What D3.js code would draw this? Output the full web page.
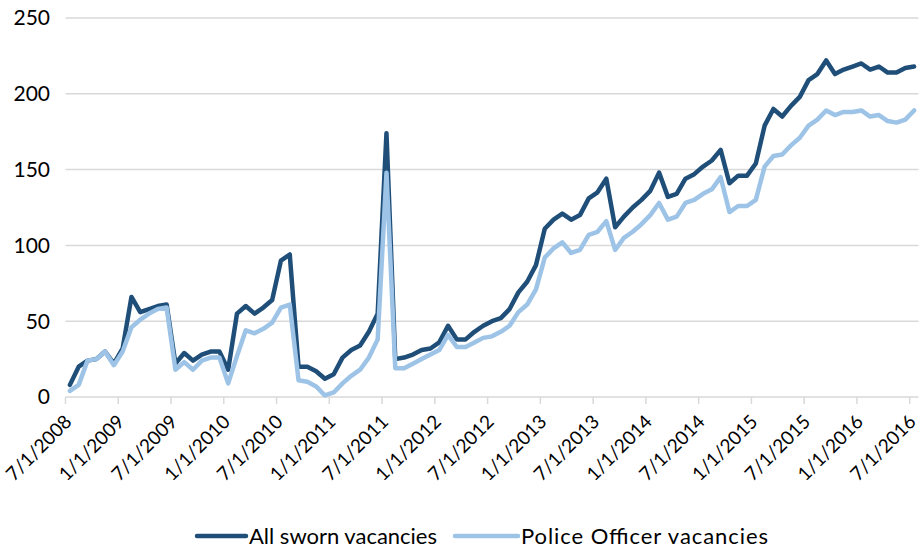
<!DOCTYPE html>
<html>
<head>
<meta charset="utf-8">
<script src="https://cdn.jsdelivr.net/npm/d3@7"></script>
<style>
  body { margin: 0; background: #fff; }
  text { font-family: Lato, "Open Sans", sans-serif; fill: #000; }
</style>
</head>
<body>
<svg width="920" height="551"></svg>
<script>
// monthly points, 7/1/2008 .. 7/1/2016
var months = d3.timeMonth.range(new Date(2008, 6, 1), new Date(2016, 7, 1));

var allSworn = [
  8, 20, 24, 25, 30, 22, 32, 66, 56, 58, 60, 61,
  22, 29, 24, 28, 30, 30, 18, 55, 60, 55, 59, 64,
  90, 94, 20, 20, 17, 12, 15, 26, 31, 34, 43, 55,
  174, 25, 26, 28, 31, 32, 36, 47, 38, 38, 43, 47,
  50, 52, 58, 69, 76, 87, 111, 117, 121, 117, 120, 131,
  135, 144, 112, 119, 125, 130, 136, 148, 132, 134, 144, 147,
  152, 156, 163, 141, 146, 146, 154, 179, 190, 185, 192, 198,
  209, 213, 222, 213, 216, 218, 220, 216, 218, 214, 214, 217,
  218
];

var policeOfficer = [
  4, 8, 24, 25, 30, 21, 30, 46, 51, 55, 58, 59,
  18, 23, 18, 24, 26, 26, 9, 27, 44, 42, 45, 49,
  59, 61, 11, 10, 7, 1, 3, 9, 14, 18, 26, 38,
  148, 19, 19, 22, 25, 28, 31, 41, 33, 33, 36, 39,
  40, 43, 47, 56, 61, 71, 92, 98, 102, 95, 97, 107,
  109, 116, 97, 105, 109, 114, 120, 128, 117, 119, 128, 130,
  134, 137, 145, 122, 126, 126, 130, 152, 159, 160, 166, 171,
  179, 183, 189, 186, 188, 188, 189, 185, 186, 182, 181, 183,
  189
];

var tickLabels = [
  "7/1/2008", "1/1/2009", "7/1/2009", "1/1/2010", "7/1/2010", "1/1/2011",
  "7/1/2011", "1/1/2012", "7/1/2012", "1/1/2013", "7/1/2013", "1/1/2014",
  "7/1/2014", "1/1/2015", "7/1/2015", "1/1/2016", "7/1/2016"
];
var yTicks = [0, 50, 100, 150, 200, 250];

var seriesNames = ["All sworn vacancies", "Police Officer vacancies"];
var seriesColors = ["#1f4e79", "#9dc3e6"];

var svg = d3.select("svg"),
    plotL = 65.5, plotR = 918.5, plotT = 18, plotB = 397;

var x = d3.scaleBand()
    .domain(d3.range(months.length))
    .range([plotL, plotR])
    .padding(0);

var y = d3.scaleLinear()
    .domain([0, 250])
    .range([plotB, plotT]);

var cx = function(i) { return x(i) + x.bandwidth() / 2; };

// gridlines
svg.append("g")
  .selectAll("line")
  .data(yTicks.slice(1))
  .enter().append("line")
    .attr("x1", plotL).attr("x2", plotR)
    .attr("y1", function(d) { return y(d); })
    .attr("y2", function(d) { return y(d); })
    .attr("stroke", "#d9d9d9")
    .attr("stroke-width", 1.5);

// y labels
svg.append("g")
  .selectAll("text")
  .data(yTicks)
  .enter().append("text")
    .attr("x", 50)
    .attr("y", function(d) { return y(d); })
    .attr("dy", "0.35em")
    .attr("text-anchor", "end")
    .style("font-size", "21px")
    .text(function(d) { return d; });

// x axis line + ticks
svg.append("line")
    .attr("x1", plotL).attr("x2", plotR)
    .attr("y1", plotB).attr("y2", plotB)
    .attr("stroke", "#d9d9d9")
    .attr("stroke-width", 1.5);

var tickIdx = tickLabels.map(function(d, k) { return k * 6; });

svg.append("g")
  .selectAll("line")
  .data(tickIdx)
  .enter().append("line")
    .attr("x1", function(i) { return x(i); })
    .attr("x2", function(i) { return x(i); })
    .attr("y1", plotB)
    .attr("y2", plotB + 7)
    .attr("stroke", "#d9d9d9")
    .attr("stroke-width", 1.5);

svg.append("g")
  .selectAll("text")
  .data(tickIdx)
  .enter().append("text")
    .attr("transform", function(i) { return "translate(" + (cx(i) + 3) + "," + 423 + ") rotate(-45)"; })
    .attr("text-anchor", "end")
    .style("font-size", "19px")
    .text(function(i, k) { return tickLabels[k]; });

// lines
var line = d3.line()
    .x(function(d, i) { return cx(i); })
    .y(function(d) { return y(d); });

[allSworn, policeOfficer].forEach(function(s, k) {
  svg.append("path")
      .datum(s)
      .attr("fill", "none")
      .attr("stroke", seriesColors[k])
      .attr("stroke-width", 4.5)
      .attr("stroke-linejoin", "round")
      .attr("stroke-linecap", "round")
      .attr("d", line);
});

// legend
var legendX = [197, 455], textX = [249, 521], textW = [188, 247];
var legend = svg.append("g");
seriesNames.forEach(function(name, k) {
  legend.append("line")
      .attr("x1", legendX[k]).attr("x2", textX[k] - 3)
      .attr("y1", 536).attr("y2", 536)
      .attr("stroke", seriesColors[k])
      .attr("stroke-width", 4.5)
      .attr("stroke-linecap", "round");
  legend.append("text")
      .attr("x", textX[k])
      .attr("y", 536)
      .attr("dy", "0.35em")
      .attr("textLength", textW[k])
      .attr("lengthAdjust", "spacing")
      .style("font-size", "22px")
      .text(name);
});
</script>
</body>
</html>
